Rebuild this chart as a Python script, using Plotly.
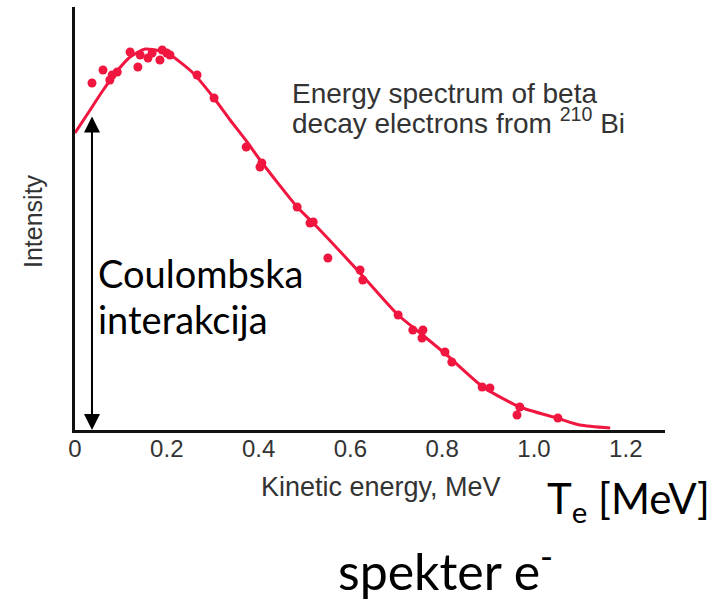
import plotly.graph_objects as go

# Measured points (kinetic energy in MeV, intensity in arbitrary units)
point_energy = [0.037, 0.061, 0.076, 0.081, 0.092, 0.120, 0.137, 0.142, 0.159, 0.168,
                0.185, 0.190, 0.200, 0.207, 0.266, 0.303, 0.373, 0.403, 0.407, 0.484,
                0.512, 0.519, 0.551, 0.621, 0.627, 0.704, 0.736, 0.758, 0.756, 0.806,
                0.821, 0.887, 0.904, 0.969, 0.963, 1.052]
point_intensity = [347, 360, 350, 355, 358, 378, 363, 375, 372, 377,
                   370, 380, 377, 375, 355, 332, 283, 263, 267, 223,
                   207, 208, 172, 160, 150, 115, 100, 100, 92, 78,
                   68, 43, 42, 23, 15, 12]

# Fitted spectrum curve
curve_energy = [0, 0.030, 0.060, 0.090, 0.120, 0.153, 0.185, 0.214, 0.257, 0.301,
                0.338, 0.375, 0.403, 0.484, 0.519, 0.621, 0.704, 0.752, 0.810, 0.889,
                0.969, 1.050, 1.100, 1.166]
curve_intensity = [297, 318, 339, 358, 373, 381, 379, 373, 357, 333,
                   310, 288, 270, 223, 207, 157, 115, 97, 75, 43,
                   23, 12, 5, 2]

tick_values = [0, 0.2, 0.4, 0.6, 0.8, 1.0, 1.2]
tick_labels = ["0", "0.2", "0.4", "0.6", "0.8", "1.0", "1.2"]

arrow_energy = 0.037
arrow_top = 315

W, H = 724, 603
L, R, T, B = 75, 59, 7, 173
PW, PH = W - L - R, H - T - B


def px(x):
    return (x - L) / PW


def py(y):
    return (H - B - y) / PH


RED = "#f0163f"
fig = go.Figure()
fig.add_trace(go.Scatter(x=curve_energy, y=curve_intensity, mode="lines",
                         line=dict(color=RED, width=3, shape="spline", smoothing=0.6),
                         hoverinfo="skip", showlegend=False))
fig.add_trace(go.Scatter(x=point_energy, y=point_intensity, mode="markers",
                         marker=dict(color=RED, size=9), showlegend=False))

# double-headed arrow
fig.add_annotation(x=arrow_energy, y=0, ax=arrow_energy, ay=arrow_top,
                   xref="x", yref="y", axref="x", ayref="y", text="",
                   showarrow=True, arrowside="end+start",
                   arrowhead=2, arrowsize=1.6, startarrowhead=2, startarrowsize=1.6,
                   arrowwidth=2, arrowcolor="black")

SANS = "Liberation Sans, Arial, sans-serif"
CAL = "Lato, Open Sans, sans-serif"


def label(x, y, text, font, size, color, xanchor="left", angle=0):
    fig.add_annotation(x=px(x), y=py(y), xref="paper", yref="paper", text=text,
                       showarrow=False, xanchor=xanchor, yanchor="middle",
                       align="left", textangle=angle,
                       font=dict(family=font, size=size, color=color))


label(290, 94, "Energy spectrum of beta", SANS, 28, "#333")
label(290, 121, "decay electrons from <sup>210</sup> Bi", SANS, 28, "#333")
label(96, 273, "Coulombska", CAL, 38, "black")
label(96, 319, "interakcija", CAL, 38, "black")
label(381, 487, "Kinetic energy, MeV", SANS, 27, "#333", xanchor="center")
label(33, 221, "Intensity", SANS, 25, "#333", xanchor="center", angle=-90)
label(545, 501, "T<sub>e</sub> [MeV]", CAL, 42, "black")
label(336, 567, "spekter e<sup>-</sup>", CAL, 50, "black")

fig.update_layout(
    width=W, height=H, margin=dict(l=L, r=R, t=T, b=B),
    paper_bgcolor="white", plot_bgcolor="white",
    xaxis=dict(range=[0, PW / 459], showgrid=False, zeroline=False,
               showline=True, linewidth=3, linecolor="#111",
               tickvals=tick_values, ticktext=tick_labels, ticks="",
               ticklabelstandoff=-5,
               tickfont=dict(family=SANS, size=24, color="#333")),
    yaxis=dict(range=[0, PH], showgrid=False, zeroline=False,
               showline=True, linewidth=3, linecolor="#111",
               showticklabels=False, ticks=""),
)

fig.write_html("out.html", config={"displayModeBar": False},
               post_script="document.body.style.margin='0';")
